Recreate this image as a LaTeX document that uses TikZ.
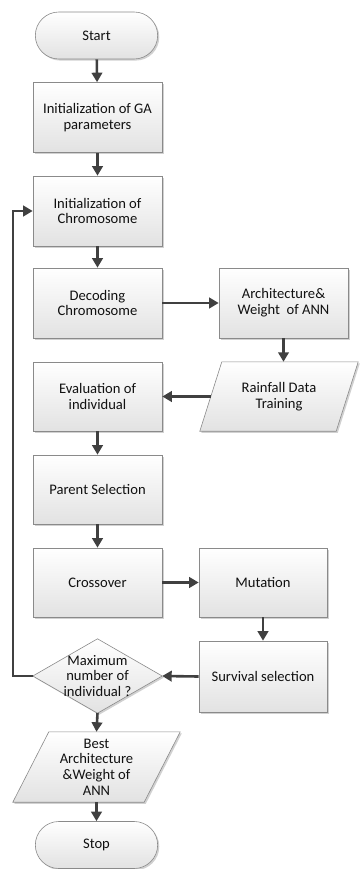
\documentclass[tikz,border=0pt]{standalone}
\usepackage{fontspec}
\setmainfont{Carlito}
\usetikzlibrary{shapes.misc,arrows.meta,shadows}
\definecolor{boxline}{HTML}{8A8A8A}
\definecolor{boxbot}{HTML}{E2E2E2}
\definecolor{arrowc}{HTML}{404040}
\definecolor{txt}{HTML}{111111}
\begin{document}
\begin{tikzpicture}[x=1pt,y=-1pt,
  txtfont/.style={font=\fontsize{14.6}{15.7}\selectfont, text=txt, align=center},
  shapefill/.style={draw=boxline, line width=0.6pt, top color=white, bottom color=boxbot,
    drop shadow={shadow xshift=1.6pt, shadow yshift=-1.6pt, fill=black!30, opacity=0.6}},
  box/.style={rectangle, shapefill, txtfont, minimum width=129pt, minimum height=70pt, inner sep=2pt},
  term/.style={rounded rectangle, shapefill, txtfont, minimum width=129pt, minimum height=47pt},
  holder/.style={rectangle, txtfont, inner sep=0pt},
  arr/.style={draw=arrowc, line width=2.6pt, -{Triangle[length=9.5pt,width=10.5pt]}}
]
\useasboundingbox (0,0) rectangle (359,869);

\node[term] (start) at (96.5,35.5) {Start};
\node[box] (ga) at (97.5,117.5) {Initialization of GA\\parameters};
\node[box] (chrom) at (97.5,211) {Initialization of\\Chromosome};
\node[box] (dec) at (97.5,303) {Decoding\\Chromosome};
\node[box] (arch) at (283.5,303) {Architecture\&\\Weight\ \ of ANN};

% parallelogram: Rainfall Data Training
\node[holder, minimum width=158pt, minimum height=69pt] (rain) at (279,396.5) {};
\draw[shapefill] ([xshift=22pt]rain.north west) -- (rain.north east)
  -- ([xshift=-22pt]rain.south east) -- (rain.south west) -- cycle;
\node[holder] (raintxt) at (rain.center) {Rainfall Data\\Training};

\node[box, minimum height=69pt] (eval) at (97.5,396.5) {Evaluation of\\individual};
\node[box, minimum height=69pt] (par) at (97.5,489.5) {Parent Selection};
\node[box, minimum height=69pt] (cross) at (97.5,582.5) {Crossover};
\node[box, minimum width=128pt, minimum height=69pt] (mut) at (263,582.5) {Mutation};
\node[box, minimum width=128pt, minimum height=71pt] (surv) at (263,676.5) {Survival selection};

% diamond: decision
\node[holder, minimum width=129pt, minimum height=74pt] (max) at (97.5,676) {};
\draw[shapefill] (max.west) -- (max.north) -- (max.east) -- (max.south) -- cycle;
\node[holder] (maxtxt) at (max.center) {Maximum\\number of\\individual ?};

% parallelogram: Best Architecture
\node[holder, minimum width=167pt, minimum height=70pt] (best) at (96.5,767) {};
\draw[shapefill] ([xshift=36pt]best.north west) -- (best.north east)
  -- ([xshift=-36pt]best.south east) -- (best.south west) -- cycle;
\node[holder] (besttxt) at (best.center) {Best\\Architecture\\\&Weight of\\ANN};

\node[term] (stop) at (96.5,845) {Stop};

\coordinate (loopx) at (13,676);

% connectors
\draw[arr] (start) -- (ga);
\draw[arr] (ga) -- (chrom);
\draw[arr] (chrom) -- (dec);
\draw[arr] (dec) -- (arch);
\draw[arr] (arch.south) -- (arch.south |- rain.north);
\draw[arr] ([xshift=11pt]rain.west) -- (eval.east);
\draw[arr] (eval) -- (par);
\draw[arr] (par) -- (cross);
\draw[arr] (cross) -- (mut);
\draw[arr] (mut) -- (surv);
\draw[arr] (surv.west) -- (max.east);
\draw[arr] (max.west) -- (loopx) |- (chrom.west);
\draw[arr] (max.south) -- (best.north);
\draw[arr] (best.south) -- (stop.north);
\end{tikzpicture}
\end{document}
